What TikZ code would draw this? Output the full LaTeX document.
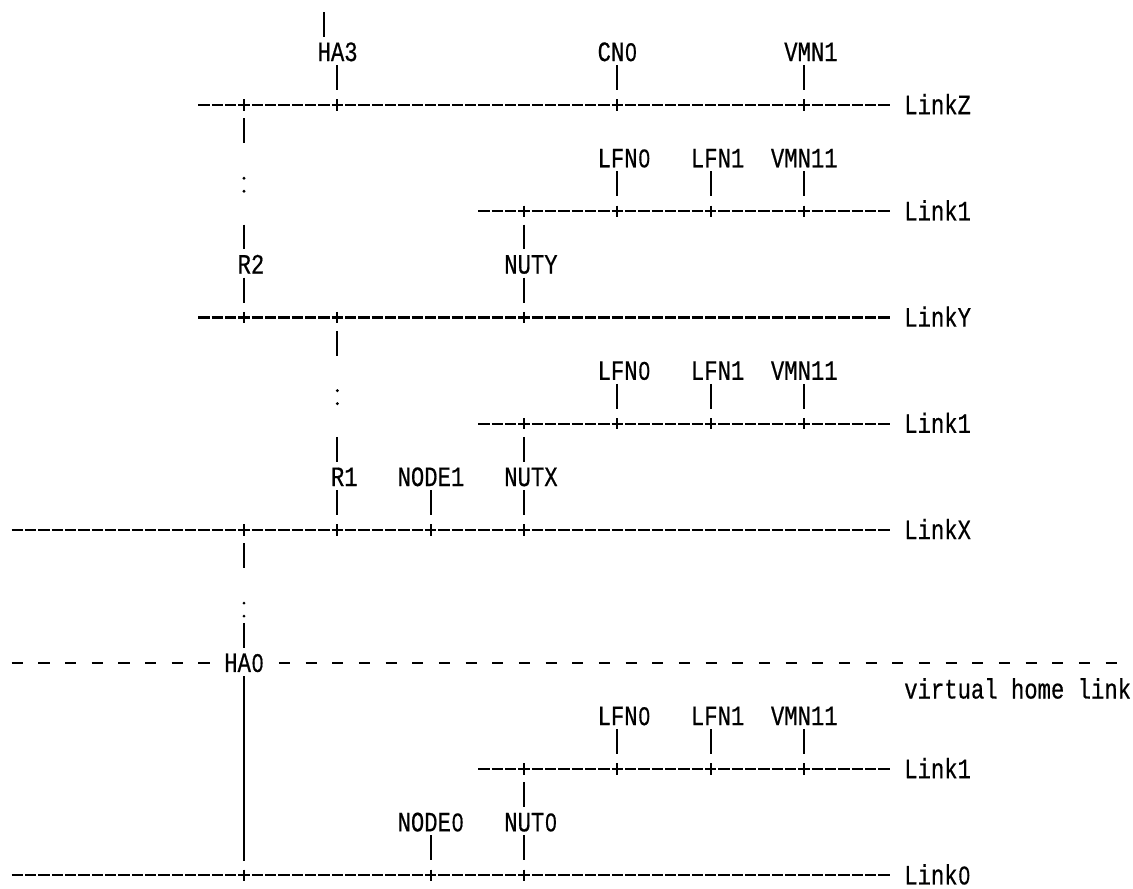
\documentclass[tikz,border=0pt]{standalone}
\usepackage{fontspec}
\usepackage{tikz}
\newfontfamily\asciifont[FakeStretch=0.794,FakeBold=0.5]{Liberation Mono}
\newfontfamily\zerofont[Scale=0.92,FakeStretch=0.8,FakeBold=0.5]{Liberation Sans}
\newcommand{\zero}{\makebox[10pt]{\zerofont 0}}
\tikzstyle{glyph} = [line width=1.7pt]
\tikzstyle{linkline} = [line width=1.7pt,
	dash pattern=on 8.4pt off 1.6pt,
	dash phase=9.2pt]
\tikzstyle{homeline} = [line width=1.7pt,
	dash pattern=on 8.4pt off 11.6pt,
	dash phase=19.2pt]
\tikzstyle{txt} = [font=\asciifont\fontsize{21pt}{22pt}\selectfont,
	inner sep=0pt,
	text height=13.8pt,
	text depth=0pt,
	anchor=west]
\newcommand{\vbar}[2]{\draw[glyph] (#1,{#2-0.5}) -- (#1,{#2+0.44})}
\newcommand{\plusmark}[2]{\draw[glyph] (#1,{#2-0.21}) -- (#1,{#2+0.21})}
\newcommand{\colonmark}[2]{\fill (#1,{#2-0.245}) circle (1.2pt) (#1,{#2+0.245}) circle (1.2pt)}
\newcommand{\leafgroup}[2]{\node[txt] (#2lfn0) at (44.5,#1) {LFN\zero};
	\node[txt] (#2lfn1) at (51.5,#1) {LFN1};
	\node[txt] (#2vmn11) at (57.5,#1) {VMN11};
	\vbar{46}{#1+1}; \vbar{53}{#1+1}; \vbar{60}{#1+1};
	\node[txt] (#2link1) at (67.5,#1+2) {Link1};
	\coordinate (#2start) at (35.5,#1+2);
	\draw[linkline] (#2start) -- ([xshift=-10pt]#2link1.west);
	\plusmark{39}{#1+2}; \plusmark{46}{#1+2}; \plusmark{53}{#1+2}; \plusmark{60}{#1+2}}

\begin{document}
\begin{tikzpicture}[x=10pt,y=-19.92pt]
	\useasboundingbox (-0.3,-0.953) rectangle (84.675,32.481);
	
	\vbar{24}{0};
	\node[txt] (ha3) at (23.5,1) {HA3};
	\node[txt] (cn0) at (44.5,1) {CN\zero};
	\node[txt] (vmn1) at (58.5,1) {VMN1};
	\vbar{25}{2}; \vbar{46}{2}; \vbar{60}{2};
	\node[txt] (linkz) at (67.5,3) {LinkZ};
	\coordinate (zstart) at (14.5,3);
	\draw[linkline] (zstart) -- ([xshift=-10pt]linkz.west);
	\plusmark{18}{3}; \plusmark{25}{3}; \plusmark{46}{3}; \plusmark{60}{3};
	
	\vbar{18}{4};
	\leafgroup{5}{a};
	\colonmark{18}{6};
	\vbar{18}{8}; \vbar{39}{8};
	\node[txt] (r2) at (17.5,9) {R2};
	\node[txt] (nuty) at (37.5,9) {NUTY};
	\vbar{18}{10}; \vbar{39}{10};
	\node[txt] (linky) at (67.5,11) {LinkY};
	\coordinate (ystart) at (14.5,11);
	\draw[linkline] (ystart) -- ([xshift=-10pt]linky.west);
	\plusmark{18}{11}; \plusmark{25}{11}; \plusmark{39}{11};
	
	\vbar{25}{12};
	\leafgroup{13}{b};
	\colonmark{25}{14};
	\vbar{25}{16}; \vbar{39}{16};
	\node[txt] (r1) at (24.5,17) {R1};
	\node[txt] (node1) at (29.5,17) {NODE1};
	\node[txt] (nutx) at (37.5,17) {NUTX};
	\vbar{25}{18}; \vbar{32}{18}; \vbar{39}{18};
	\node[txt] (linkx) at (67.5,19) {LinkX};
	\coordinate (xstart) at (0.5,19);
	\draw[linkline] (xstart) -- ([xshift=-10pt]linkx.west);
	\plusmark{18}{19}; \plusmark{25}{19}; \plusmark{32}{19}; \plusmark{39}{19};
	
	\vbar{18}{20};
	\colonmark{18}{22};
	\vbar{18}{23};
	\node[txt] (ha0) at (16.5,24) {HA\zero};
	\coordinate (hstart) at (0.5,24);
	\coordinate (hend) at (83.5,24);
	\draw[homeline] (hstart) -- ([xshift=-10pt]ha0.west);
	\draw[homeline] ([xshift=10pt]ha0.east) -- (hend);
	\node[txt] (vhl) at (67.5,25) {virtual home link};
	\draw[glyph] ([yshift=-3.2pt]ha0.south) -- ++(0,6.94);
	
	\leafgroup{26}{c};
	\vbar{39}{29};
	\node[txt] (node0) at (29.5,30) {NODE\zero};
	\node[txt] (nut0) at (37.5,30) {NUT\zero};
	\vbar{32}{31}; \vbar{39}{31};
	\node[txt] (link0) at (67.5,32) {Link\zero};
	\coordinate (ostart) at (0.5,32);
	\draw[linkline] (ostart) -- ([xshift=-10pt]link0.west);
	\plusmark{18}{32}; \plusmark{32}{32}; \plusmark{39}{32};
\end{tikzpicture}
\end{document}
